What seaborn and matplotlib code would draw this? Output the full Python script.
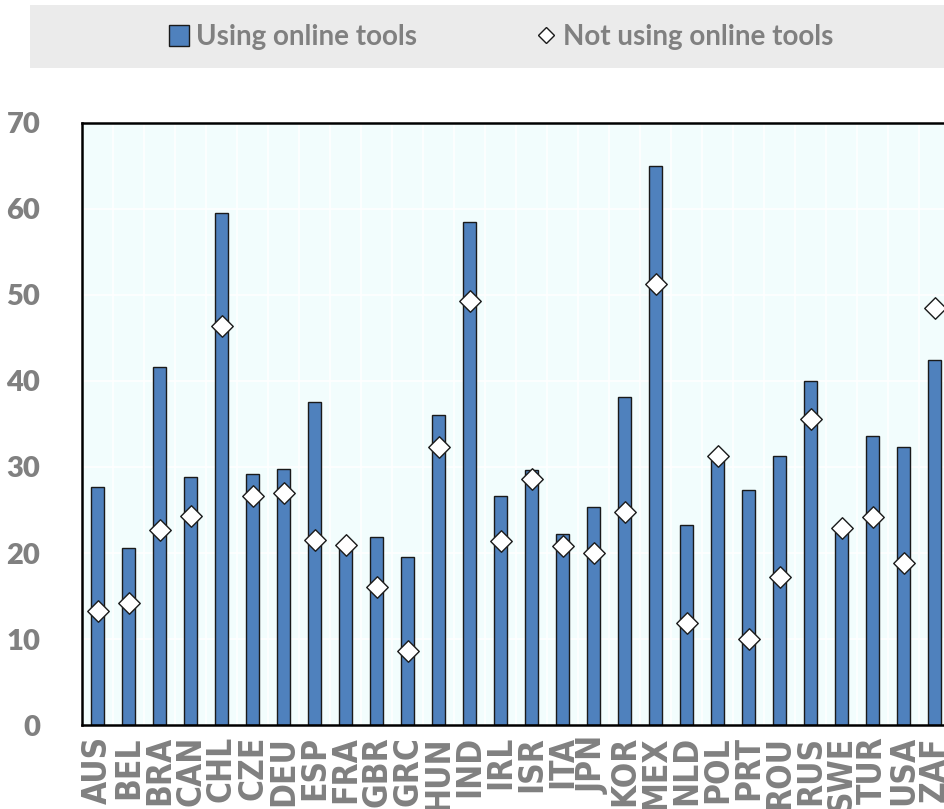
import numpy as np
import pandas as pd
import seaborn as sns
import matplotlib.pyplot as plt
from matplotlib.patches import Patch, Rectangle
from matplotlib.lines import Line2D
from matplotlib.ticker import FixedLocator

# Data
countries = ["AUS", "BEL", "BRA", "CAN", "CHL", "CZE", "DEU", "ESP", "FRA", "GBR",
             "GRC", "HUN", "IND", "IRL", "ISR", "ITA", "JPN", "KOR", "MEX", "NLD",
             "POL", "PRT", "ROU", "RUS", "SWE", "TUR", "USA", "ZAF"]
using_online = [27.7, 20.6, 41.6, 28.8, 59.5, 29.2, 29.8, 37.6, 20.8, 21.9,
                19.5, 36.0, 58.5, 26.6, 29.7, 22.2, 25.3, 38.1, 65.0, 23.3,
                30.8, 27.3, 31.3, 40.0, 22.5, 33.6, 32.3, 42.4]
not_using_online = [13.3, 14.2, 22.7, 24.3, 46.4, 26.6, 27.0, 21.5, 20.9, 16.0,
                    8.6, 32.3, 49.3, 21.4, 28.6, 20.8, 20.0, 24.8, 51.3, 11.9,
                    31.3, 10.0, 17.2, 35.6, 22.9, 24.2, 18.8, 48.5]

df = pd.DataFrame({"country": countries, "using": using_online, "not_using": not_using_online})
df["pos"] = range(len(df))

bar_color = "#4f81bd"
edge = "#1a1a1a"
grey = "#808080"

sns.set_style("white")
plt.rcParams["font.family"] = ["Lato", "DejaVu Sans"]

fig = plt.figure(figsize=(9.44, 8.09), dpi=100)
# axes is a bit wider than the figure so the last category gets cut off, like the original
ax = fig.add_axes([82 / 944, 1 - 725 / 809, 868 / 944, 602 / 809])
ax.set_facecolor("#f2fdfd")

sns.barplot(data=df, x="country", y="using", color=bar_color, saturation=1,
            edgecolor=edge, linewidth=1.0, width=0.42, ax=ax, zorder=2)
sns.scatterplot(data=df, x="pos", y="not_using", marker="D", s=120, color="white",
                edgecolor=edge, linewidth=1.0, ax=ax, zorder=3, legend=False)

ax.set_xlim(-0.5, len(countries) - 0.5)
ax.set_ylim(0, 70)
ax.set_yticks(range(0, 71, 10))
ax.set_xlabel("")
ax.set_ylabel("")

# category separators as minor ticks + white grid
ax.xaxis.set_minor_locator(FixedLocator(np.arange(0.5, len(countries) - 0.5, 1)))
ax.grid(False)
ax.grid(True, axis="y", which="major", color="white", linewidth=1.2, zorder=0)
ax.grid(True, axis="x", which="minor", color="white", linewidth=1.2, zorder=0)
ax.set_axisbelow(True)

ax.tick_params(axis="x", which="major", length=0, pad=8, labelsize=24,
               labelcolor=grey, rotation=90)
ax.tick_params(axis="x", which="minor", direction="in", length=8, width=1.5, color="black")
ax.tick_params(axis="y", which="major", direction="in", length=8, width=1.5, color="black",
               pad=30, labelsize=21, labelcolor=grey)
for lab in ax.get_xticklabels():
    lab.set_fontfamily(["DejaVu Sans"])
    lab.set_fontstretch("condensed")
    lab.set_fontweight("bold")
for lab in ax.get_yticklabels():
    lab.set_fontweight("heavy")

for side in ["left", "bottom", "top"]:
    ax.spines[side].set_visible(True)
    ax.spines[side].set_color("black")
    ax.spines[side].set_linewidth(1.8)
ax.spines["right"].set_visible(False)

# legend band on top
fig.patches.append(Rectangle((30 / 944, 1 - 68 / 809), 1.0, 63 / 809,
                             transform=fig.transFigure, facecolor="#ebebeb",
                             edgecolor="none", zorder=0))
handles = [Patch(facecolor=bar_color, edgecolor=edge, linewidth=1.0),
           Line2D([], [], marker="D", linestyle="none", markersize=8,
                  markerfacecolor="white", markeredgecolor=edge, markeredgewidth=1.0)]
leg = fig.legend(handles, ["Using online tools", "Not using online tools"],
                 loc="center", bbox_to_anchor=(0.531, 1 - 37 / 809), ncol=2,
                 frameon=False, columnspacing=4.3, handlelength=0.7, handleheight=0.8,
                 handletextpad=0.25, prop={"size": 20, "weight": "bold"})
for t in leg.get_texts():
    t.set_color(grey)

fig.savefig("out.png", dpi=100)
